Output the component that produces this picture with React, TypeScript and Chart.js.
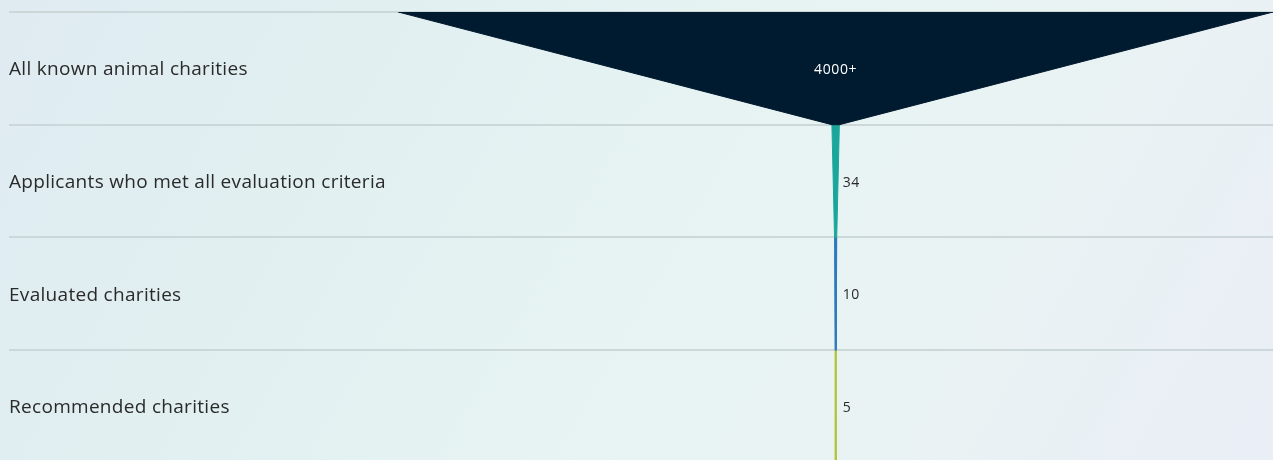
import React, { useEffect, useRef } from "react";
import { Chart, registerables } from "chart.js";

Chart.register(...registerables);

const categories = [
  "All known animal charities",
  "Applicants who met all evaluation criteria",
  "Evaluated charities",
  "Recommended charities",
];
const values = [4000, 34, 10, 5];
const valueLabels = ["4000+", "34", "10", "5"];
const colors = ["#001a2f", "#1ba69b", "#2d7bbd", "#b4c33d"];

export default function App() {
  const ref = useRef<HTMLCanvasElement | null>(null);

  useEffect(() => {
    document.body.style.margin = "0";
    const canvas = ref.current;
    if (!canvas) return;

    const datasets = values.map((v, i) => {
      const next = i + 1 < values.length ? values[i + 1] : v;
      const pts = [
        { x: -v / 2, y: i },
        { x: v / 2, y: i },
        { x: next / 2, y: i + 1 },
        { x: -next / 2, y: i + 1 },
        { x: -v / 2, y: i },
      ];
      return {
        label: categories[i],
        data: pts,
        showLine: true,
        fill: "shape" as any,
        backgroundColor: colors[i],
        borderColor: colors[i],
        borderWidth: 1,
        pointRadius: 0,
        tension: 0,
      };
    });

    const labelPlugin = {
      id: "funnelLabels",
      afterDatasetsDraw(chart: any) {
        const { ctx, scales } = chart;
        const xs = scales.x;
        const ys = scales.y;
        ctx.save();
        categories.forEach((c, i) => {
          const y = ys.getPixelForValue(i + 0.5) + 1.5;
          ctx.font = '19px "Open Sans", sans-serif';
          (ctx as any).letterSpacing = "0.3px";
          ctx.fillStyle = "#2a2a2a";
          ctx.textAlign = "left";
          ctx.textBaseline = "middle";
          ctx.fillText(c, 9, y);
          ctx.font = '14px "Open Sans", sans-serif';
          (ctx as any).letterSpacing = "0.6px";
          if (i === 0) {
            ctx.fillStyle = "#ffffff";
            ctx.textAlign = "center";
            ctx.fillText(valueLabels[i], xs.getPixelForValue(0), y);
          } else {
            ctx.fillStyle = "#2a2a2a";
            ctx.textAlign = "left";
            ctx.fillText(valueLabels[i], xs.getPixelForValue(0) + 7, y);
          }
        });
        ctx.restore();
      },
    };

    const chart = new Chart(canvas, {
      type: "scatter",
      data: { datasets: datasets as any },
      options: {
        animation: false,
        responsive: false,
        maintainAspectRatio: false,
        layout: { padding: { top: 12, left: 9, right: 0, bottom: 0 } },
        plugins: { legend: { display: false }, tooltip: { enabled: false } },
        scales: {
          x: {
            type: "linear",
            min: -3780,
            max: 2000,
            display: false,
          },
          y: {
            type: "linear",
            reverse: true,
            min: 0,
            max: 3.975,
            display: true,
            border: { display: false },
            ticks: { display: false, stepSize: 1, includeBounds: false },
            grid: { color: "#ccd7d9", lineWidth: 2, drawTicks: false },
          },
        },
      },
      plugins: [labelPlugin],
    });
    return () => chart.destroy();
  }, []);

  return (
    <div
      style={{
        width: 1273,
        height: 460,
        position: "relative",
        overflow: "hidden",
        background:
          "linear-gradient(120deg, #dfebf1 0%, #e2f0f1 30%, #e7f3f3 50%, #e9f3f3 70%, #eaeef6 100%)",
      }}
    >
      <canvas ref={ref} width={1273} height={460} style={{ display: "block" }} />
    </div>
  );
}
